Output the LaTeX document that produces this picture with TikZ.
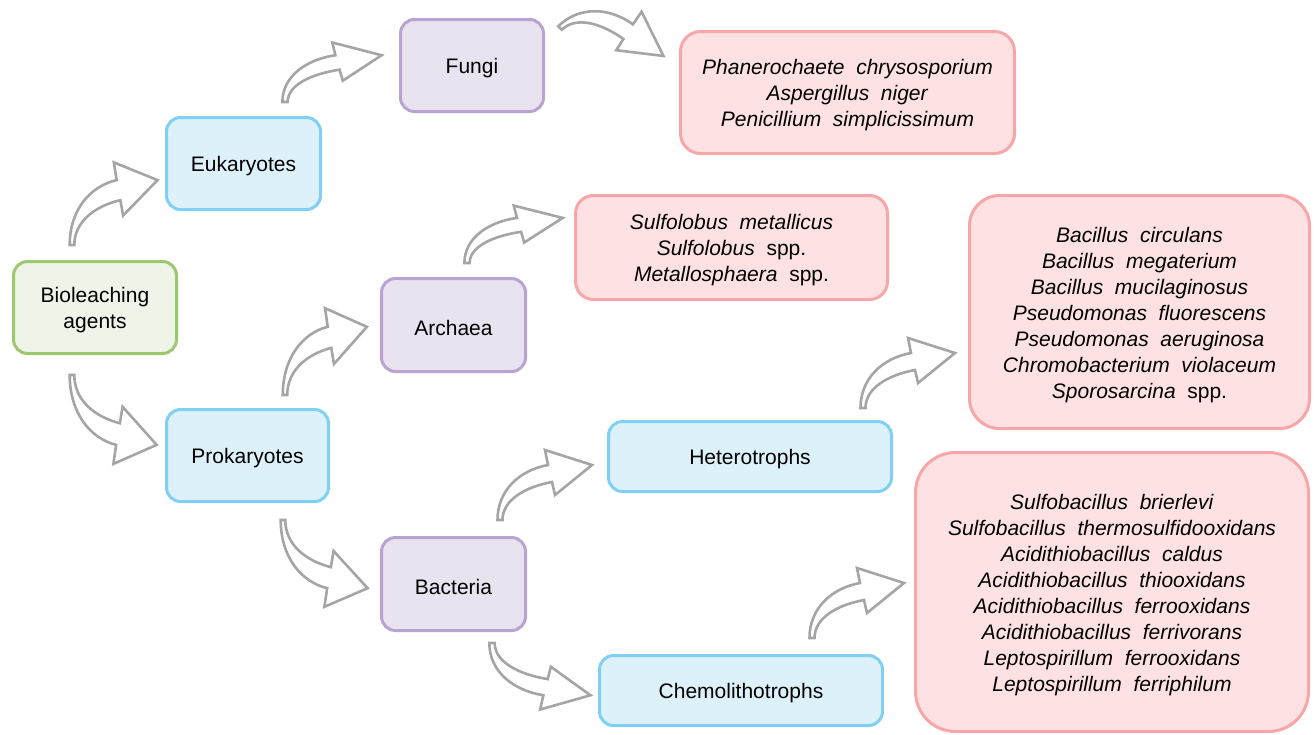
\documentclass[tikz,border=0pt]{standalone}
\usepackage{fontspec}
\setmainfont{Liberation Sans}[WordSpace=2]
\definecolor{greenB}{HTML}{9DC86F}
\definecolor{greenF}{HTML}{EEF4E7}
\definecolor{blueB}{HTML}{7FD0F4}
\definecolor{blueF}{HTML}{DDF1FA}
\definecolor{purB}{HTML}{B9A3D1}
\definecolor{purF}{HTML}{E8E3EF}
\definecolor{redB}{HTML}{F8A6A8}
\definecolor{redF}{HTML}{FDE1E3}
\definecolor{arrG}{HTML}{A5A5A5}
\begin{document}
\begin{tikzpicture}[x=1pt,y=-1pt,
  tx/.style={align=center,inner sep=0pt,yshift=-3pt,font=\fontsize{21}{26}\selectfont},
  box/.style={rounded corners=14pt,line width=3pt,inner sep=0pt},
  gbox/.style={box,draw=greenB,fill=greenF},
  bbox/.style={box,draw=blueB,fill=blueF},
  pbox/.style={box,draw=purB,fill=purF},
  rbox/.style={box,draw=redB,fill=redF},
  arrowshape/.style={draw=arrG,fill=white,line width=2.6pt,line join=miter},
  carrowpath/.style={insert path={(-2.5,0) .. controls (-2.5,-30) and (20,-50) .. (48,-55)
     -- (45,-70) -- (92,-55) -- (55,-25) -- (52,-38)
     .. controls (25,-33) and (2.5,-20) .. (2.5,0) -- cycle}}
]
\useasboundingbox (0,0) rectangle (1314,734);

% level boxes
\node[gbox,minimum width=163pt,minimum height=92pt,label={[tx]center:{Bioleaching\\agents}}] (bio) at (95,307.5) {};
\node[bbox,minimum width=154pt,minimum height=92pt,label={[tx]center:Eukaryotes}] (euk) at (243.5,163.5) {};
\node[bbox,minimum width=162pt,minimum height=92pt,label={[tx]center:Prokaryotes}] (pro) at (247.5,455.5) {};
\node[pbox,minimum width=143pt,minimum height=92pt,label={[tx]center:Fungi}] (fungi) at (472,65.5) {};
\node[pbox,minimum width=144pt,minimum height=93pt,label={[tx]center:Archaea}] (arch) at (453.5,325) {};
\node[pbox,minimum width=144pt,minimum height=93pt,label={[tx]center:Bacteria}] (bact) at (453.5,584) {};
\node[bbox,minimum width=283pt,minimum height=70pt,label={[tx]center:Heterotrophs}] (het) at (750,456.5) {};
\node[bbox,minimum width=283pt,minimum height=70pt,label={[tx]center:Chemolithotrophs}] (chem) at (741,690.5) {};

% species boxes
\node[rbox,rounded corners=20pt,minimum width=334pt,minimum height=122pt,
  label={[tx]center:{\textit{Phanerochaete chrysosporium}\\\textit{Aspergillus niger}\\\textit{Penicillium simplicissimum}}}]
  (fsp) at (847.5,92.5) {};
\node[rbox,rounded corners=18pt,minimum width=312pt,minimum height=104pt,
  label={[tx]center:{\textit{Sulfolobus metallicus}\\\textit{Sulfolobus} spp.\\\textit{Metallosphaera} spp.}}]
  (asp) at (731.5,247.5) {};
\node[rbox,rounded corners=30pt,minimum width=340pt,minimum height=233pt,
  label={[tx]center:{\textit{Bacillus circulans}\\\textit{Bacillus megaterium}\\\textit{Bacillus mucilaginosus}\\
   \textit{Pseudomonas fluorescens}\\\textit{Pseudomonas aeruginosa}\\
   \textit{Chromobacterium violaceum}\\\textit{Sporosarcina} spp.}}]
  (hsp) at (1139.5,312) {};
\node[rbox,rounded corners=40pt,minimum width=393pt,minimum height=279pt,
  label={[tx]center:{\textit{Sulfobacillus brierlevi}\\\textit{Sulfobacillus thermosulfidooxidans}\\
   \textit{Acidithiobacillus caldus}\\\textit{Acidithiobacillus thiooxidans}\\
   \textit{Acidithiobacillus ferrooxidans}\\\textit{Acidithiobacillus ferrivorans}\\
   \textit{Leptospirillum ferrooxidans}\\\textit{Leptospirillum ferriphilum}}}]
  (csp) at (1112,592) {};

% curved block arrows
\path[arrowshape,shift={(72,245)},xscale=.93,yscale=1.18] [carrowpath];   % bio -> euk
\path[arrowshape,shift={(72,375)},xscale=.92,yscale=-1.27] [carrowpath];  % bio -> pro
\path[arrowshape,shift={(285,102)},xscale=1.05,yscale=.85] [carrowpath];  % euk -> fungi
\path[arrowshape,shift={(285,395)},xscale=.89,yscale=1.24] [carrowpath];  % pro -> arch
\path[arrowshape,shift={(283,520)},xscale=.92,yscale=-1.24] [carrowpath]; % pro -> bact
\path[arrowshape,shift={(560,28)},rotate=-46] [carrowpath];               % fungi -> fsp
\path[arrowshape,shift={(467,263)},xscale=1.04,yscale=.82] [carrowpath];  % arch -> asp
\path[arrowshape,shift={(500,520)}] [carrowpath];                         % bact -> het
\path[arrowshape,shift={(492,643)},xscale=1.07,yscale=-.95] [carrowpath]; % bact -> chem
\path[arrowshape,shift={(863,408)}] [carrowpath];                         % het -> hsp
\path[arrowshape,shift={(812,638)}] [carrowpath];                         % chem -> csp
\end{tikzpicture}
\end{document}
